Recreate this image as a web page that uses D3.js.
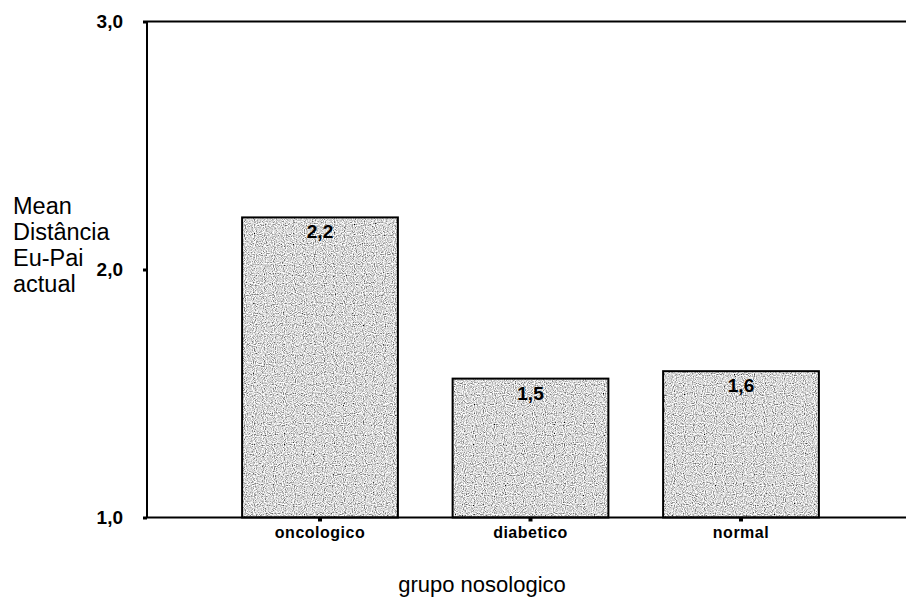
<!DOCTYPE html>
<html>
<head>
<meta charset="utf-8">
<script src="https://cdn.jsdelivr.net/npm/d3@7"></script>
<style>
  html, body { margin: 0; padding: 0; background: #fff; }
  svg { display: block; font-family: Arial, "Liberation Sans", sans-serif; }
</style>
</head>
<body>
<svg id="chart" width="906" height="605"></svg>
<script>
const categories = ["oncologico", "diabetico", "normal"];
const means = [2.21, 1.56, 1.59];
const barLabels = ["2,2", "1,5", "1,6"];
const yTicks = [1, 2, 3];
const yTitleLines = ["Mean", "Distância", "Eu-Pai", "actual"];
const xTitle = "grupo nosologico";

const svg = d3.select("#chart");
const plotLeft = 147, plotRight = 906, plotTop = 21.5, plotBottom = 517.5;

const y = d3.scaleLinear().domain([1, 3]).range([plotBottom, plotTop]);
const x = d3.scaleBand().domain(categories).range([214.75, 846.25])
  .paddingInner(0.26).paddingOuter(0.13);

const comma = v => d3.format(".1f")(v).replace(".", ",");

// noise texture filter for bars
const defs = svg.append("defs");
const f = defs.append("filter").attr("id", "grain")
  .attr("x", 0).attr("y", 0).attr("width", 1).attr("height", 1);
f.append("feTurbulence").attr("type", "fractalNoise").attr("baseFrequency", 0.9)
  .attr("numOctaves", 1).attr("seed", 4).attr("result", "t");
f.append("feColorMatrix").attr("in", "t").attr("type", "matrix")
  .attr("values", "2.2 0 0 0 -0.42  2.2 0 0 0 -0.42  2.2 0 0 0 -0.42  0 0 0 0 1")
  .attr("result", "g");
f.append("feComposite").attr("in", "g").attr("in2", "SourceGraphic").attr("operator", "in");

const bars = svg.append("g");
bars.selectAll("rect.fill").data(means).join("rect")
  .attr("class", "fill")
  .attr("x", (d, i) => x(categories[i]))
  .attr("y", d => y(d))
  .attr("width", x.bandwidth())
  .attr("height", d => y(1) - y(d))
  .attr("fill", "#b6b6b6");
bars.selectAll("rect.grain").data(means).join("rect")
  .attr("class", "grain")
  .attr("x", (d, i) => x(categories[i]))
  .attr("y", d => y(d))
  .attr("width", x.bandwidth())
  .attr("height", d => y(1) - y(d))
  .attr("fill", "#b6b6b6")
  .attr("filter", "url(#grain)");
bars.selectAll("rect.edge").data(means).join("rect")
  .attr("class", "edge")
  .attr("x", (d, i) => x(categories[i]))
  .attr("y", d => y(d))
  .attr("width", x.bandwidth())
  .attr("height", d => y(1) - y(d))
  .attr("fill", "none")
  .attr("stroke", "#000")
  .attr("stroke-width", 2);

// bar labels
svg.append("g").selectAll("text").data(means).join("text")
  .attr("x", (d, i) => x(categories[i]) + x.bandwidth() / 2)
  .attr("y", d => y(d) + 21)
  .attr("text-anchor", "middle")
  .attr("font-size", 19)
  .attr("font-weight", "bold")
  .attr("fill", "#000")
  .text((d, i) => barLabels[i]);

// frame top line
svg.append("line")
  .attr("x1", plotLeft).attr("x2", plotRight)
  .attr("y1", y(3)).attr("y2", y(3))
  .attr("stroke", "#000").attr("stroke-width", 2);

// y axis
const yAxis = svg.append("g")
  .attr("transform", `translate(${plotLeft},0)`)
  .call(d3.axisLeft(y).tickValues(yTicks).tickFormat(comma).tickSize(4).tickPadding(20));
yAxis.select(".domain").attr("stroke-width", 2).attr("d", `M0,${plotTop}V${plotBottom}`);
yAxis.selectAll(".tick line").attr("stroke-width", 3);
yAxis.selectAll("text").attr("font-size", 19).attr("font-weight", "bold")
  .attr("font-family", "Arial, 'Liberation Sans', sans-serif").attr("fill", "#000");

// x axis
const xAxis = svg.append("g")
  .attr("transform", `translate(0,${plotBottom})`)
  .call(d3.axisBottom(x).tickSize(4).tickPadding(5));
xAxis.select(".domain").attr("stroke-width", 2).attr("d", `M${plotLeft},0H${plotRight}`);
xAxis.selectAll(".tick line").attr("stroke-width", 4);
xAxis.selectAll("text").attr("font-size", 16).attr("font-weight", "bold")
  .attr("letter-spacing", 0.5)
  .attr("font-family", "Arial, 'Liberation Sans', sans-serif").attr("fill", "#000");

// y title
svg.append("text")
  .attr("x", 13).attr("y", 214)
  .attr("font-size", 23.5).attr("fill", "#000")
  .selectAll("tspan").data(yTitleLines).join("tspan")
  .attr("x", 13).attr("dy", (d, i) => i === 0 ? 0 : 26)
  .text(d => d);

// x title
svg.append("text")
  .attr("x", 482).attr("y", 592)
  .attr("text-anchor", "middle")
  .attr("font-size", 22).attr("fill", "#000")
  .text(xTitle);
</script>
</body>
</html>
